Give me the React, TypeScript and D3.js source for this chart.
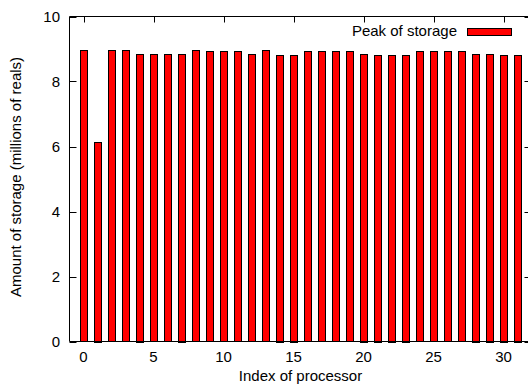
import React from "react";
import * as d3 from "d3";

const processors = [0,1,2,3,4,5,6,7,8,9,10,11,12,13,14,15,16,17,18,19,20,21,22,23,24,25,26,27,28,29,30,31];
const storage = [8.96, 6.14, 8.96, 8.96, 8.86, 8.84, 8.84, 8.86, 8.96, 8.93, 8.93, 8.93, 8.84, 8.96, 8.82, 8.82, 8.93, 8.93, 8.93, 8.93, 8.86, 8.82, 8.82, 8.82, 8.93, 8.93, 8.93, 8.93, 8.86, 8.86, 8.82, 8.82];
const xTicks = [0, 5, 10, 15, 20, 25, 30];
const yTicks = [0, 2, 4, 6, 8, 10];
const seriesName = "Peak of storage";
const xTitle = "Index of processor";
const yTitle = "Amount of storage (millions of reals)";

const W = 528, H = 385;
const left = 69.5, right = 531.5, top = 16.5, bottom = 341.5;
const font = "'Liberation Sans', Arial, sans-serif";
const fs = 15;

export default function App() {
  const x = d3.scaleLinear().domain([-1, 32]).range([left, right]);
  const y = d3.scaleLinear().domain([0, 10]).range([bottom, top]);
  const bw = 7;
  return (
    <svg width={W} height={H} style={{ position: "absolute", left: 0, top: 0, background: "#fff" }}>
      {processors.map((p, i) => (
        <rect key={p} x={Math.round(x(p) - bw / 2) + 0.5} y={Math.round(y(storage[i])) + 0.5}
          width={bw} height={Math.round(y(0) - y(storage[i]))}
          fill="#ff0000" stroke="#000" strokeWidth={1} />
      ))}
      {yTicks.map(t => (
        <g key={t}>
          <line x1={left} x2={left + 7} y1={Math.round(y(t)) + 0.5} y2={Math.round(y(t)) + 0.5} stroke="#000" />
          <line x1={right - 7} x2={right} y1={Math.round(y(t)) + 0.5} y2={Math.round(y(t)) + 0.5} stroke="#000" />
          <text x={60} y={y(t)} dy="0.36em" textAnchor="end" fontFamily={font} fontSize={fs}>{t}</text>
        </g>
      ))}
      {xTicks.map(t => (
        <g key={t}>
          <line x1={Math.round(x(t)) + 0.5} x2={Math.round(x(t)) + 0.5} y1={top} y2={top + 6} stroke="#000" />
          <text x={x(t)} y={362} textAnchor="middle" fontFamily={font} fontSize={fs}>{t}</text>
        </g>
      ))}
      <path d={`M${right},${top}H${left}V${bottom}H${right}`} fill="none" stroke="#000" strokeWidth={1} />
      <text x={(left + right) / 2} y={381} textAnchor="middle" fontFamily={font} fontSize={fs}>{xTitle}</text>
      <text transform={`translate(21,${(top + bottom) / 2 - 2}) rotate(-90)`} textAnchor="middle" fontFamily={font} fontSize={fs}>{yTitle}</text>
      <text x={457} y={35.5} textAnchor="end" fontFamily={font} fontSize={fs}>{seriesName}</text>
      <rect x={467.5} y={28.5} width={44} height={7} fill="#ff0000" stroke="#000" />
    </svg>
  );
}
